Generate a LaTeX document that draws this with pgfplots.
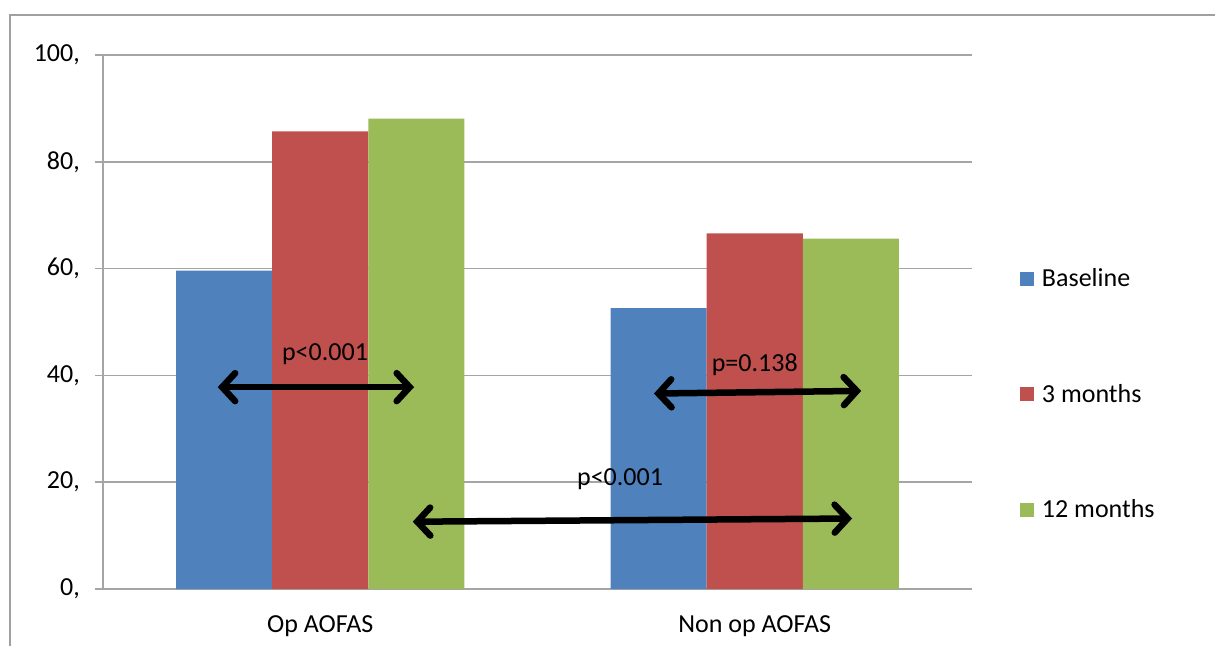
\documentclass[border=0pt]{standalone}
\usepackage{pgfplots}
\pgfplotsset{compat=1.18}
\usetikzlibrary{arrows.meta}
\usepackage{fontspec}
\setmainfont{Carlito}
\definecolor{cblue}{RGB}{79,129,189}
\definecolor{cred}{RGB}{192,80,77}
\definecolor{cgreen}{RGB}{155,187,89}
\definecolor{axisgray}{RGB}{165,165,165}
\definecolor{framegray}{RGB}{160,160,160}
\tikzset{parr/.style={line width=6.5pt, line cap=round,
  {Straight Barb[length=13pt,width=28pt,line cap=round]}-{Straight Barb[length=13pt,width=28pt,line cap=round]}}}
\begin{document}
\begin{tikzpicture}[font=\fontsize{26}{31}\selectfont]
\useasboundingbox (0,0) rectangle (1215pt,646pt);
\draw[framegray, line width=2pt] (10pt,0pt) -- (10pt,631pt) -- (1215pt,631pt);
\begin{axis}[
  at={(103pt,57pt)}, anchor=south west,
  scale only axis, width=869pt, height=534pt,
  ybar=0pt, bar width=0.221,
  xmin=-0.5, xmax=1.5, ymin=0, ymax=100,
  axis x line*=bottom, axis y line*=left,
  axis line style={draw=axisgray, line width=1.6pt, -},
  xtick={0,1}, xticklabels={Op AOFAS, Non op AOFAS},
  xtick style={draw=none},
  extra x ticks={-0.5,0.5,1.5}, extra x tick labels={},
  extra x tick style={grid=none, major tick length=8pt, tick style={draw=axisgray, line width=1.6pt}},
  xticklabel style={yshift=-15pt},
  ytick={0,20,40,60,80,100},
  yticklabels={{0,},{20,},{40,},{60,},{80,},{100,}},
  ytick style={draw=axisgray, line width=1.6pt},
  major tick length=8pt, tick align=outside,
  yticklabel style={inner sep=0pt, xshift=-15pt},
  ymajorgrids, grid style={draw=axisgray, line width=1.6pt},
  tick label style={font=\fontsize{26}{31}\selectfont},
  legend style={draw=none, at={(1.055,0.365)}, anchor=west, inner sep=0pt,
    row sep=92pt, font=\fontsize{26}{31}\selectfont, cells={anchor=west}},
  legend image code/.code={\fill[#1,draw=none] (0pt,-7pt) rectangle (14pt,7pt); \path (20pt,0pt);},
  clip=false,
]
\addplot[fill=cblue, draw=none] coordinates {(0,59.6) (1,52.6)};
\addplot[fill=cred, draw=none] coordinates {(0,85.7) (1,66.6)};
\addplot[fill=cgreen, draw=none] coordinates {(0,88.1) (1,65.6)};
\legend{Baseline, 3 months, 12 months}
\draw[parr] (axis cs:-0.236,37.8) -- (axis cs:0.216,37.8);
\node at (axis cs:0.011,44.0) {p<0.001};
\draw[parr] (axis cs:0.768,36.6) -- (axis cs:1.245,37.1);
\node at (axis cs:1.0,42.0) {p=0.138};
\draw[parr] (axis cs:0.213,12.6) -- (axis cs:1.224,13.2);
\node at (axis cs:0.69,20.6) {p<0.001};
\end{axis}
\end{tikzpicture}
\end{document}
